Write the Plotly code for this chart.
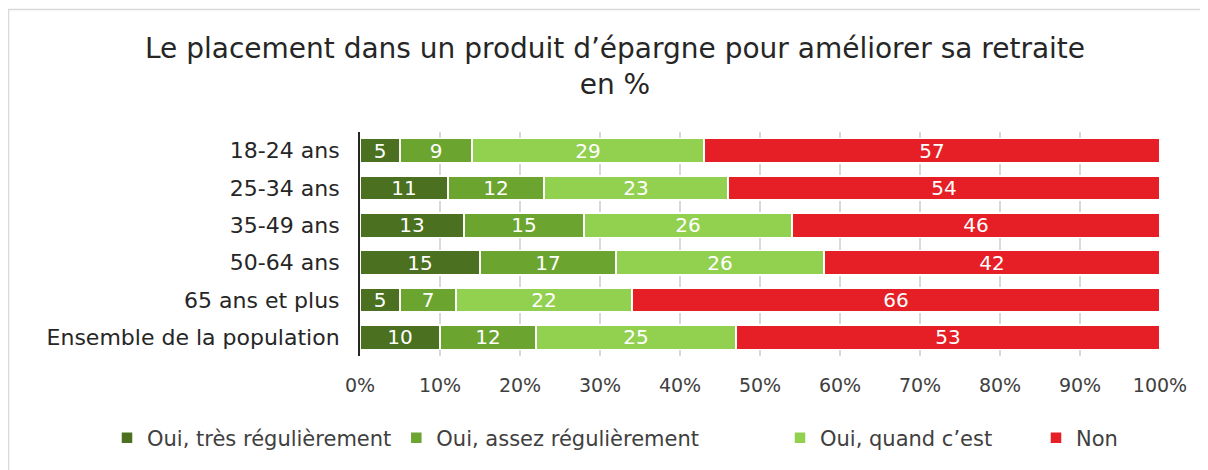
import plotly.graph_objects as go

categories = ["18-24 ans", "25-34 ans", "35-49 ans", "50-64 ans", "65 ans et plus", "Ensemble de la population"]
series_names = ["Oui, très régulièrement", "Oui, assez régulièrement", "Oui, quand c\u2019est", "Non"]
tres_reg = [5, 11, 13, 15, 5, 10]
assez_reg = [9, 12, 15, 17, 7, 12]
quand = [29, 23, 26, 26, 22, 25]
non = [57, 54, 46, 42, 66, 53]
colors = ["#4a7020", "#6ba530", "#92d050", "#e61e25"]
tick_vals = [0, 10, 20, 30, 40, 50, 60, 70, 80, 90, 100]
tick_text = [f"{v}%" for v in tick_vals]

FONT = "DejaVu Sans"
W, H = 1200, 462
ML, MR, MT, MB = 352, 48, 124, 114
PW, PH = W - ML - MR, H - MT - MB
legend_ids = ["legend", "legend", "legend2", "legend2"]

fig = go.Figure()
for name, vals, col, lg in zip(series_names, [tres_reg, assez_reg, quand, non], colors, legend_ids):
    fig.add_trace(go.Bar(
        y=categories, x=vals, name=name, orientation="h", legend=lg,
        marker=dict(color=col, line=dict(color="white", width=1.5)),
        text=[str(v) for v in vals], textposition="inside",
        insidetextanchor="middle", textangle=0,
        textfont=dict(color="white", size=20, family=FONT),
        constraintext="none", cliponaxis=False,
    ))

legend_y = (MT + PH - 430) / PH
fig.update_layout(
    barmode="stack", bargap=0.35,
    width=W, height=H,
    margin=dict(l=ML, r=MR, t=MT, b=MB, autoexpand=False),
    paper_bgcolor="white", plot_bgcolor="white",
    font=dict(family=FONT, color="#262626", size=19),
    title=dict(text="Le placement dans un produit d\u2019épargne pour améliorer sa retraite<br>en %",
               x=0.5 + 7 / W, xanchor="center", y=1 - 50 / H, yanchor="top",
               font=dict(size=28, family=FONT, color="#262626")),
    xaxis=dict(range=[0, 100], tickvals=tick_vals, ticktext=tick_text,
               showgrid=True, gridcolor="#d9d9d9", gridwidth=1.5,
               zeroline=False, showline=False, ticks="",
               tickfont=dict(size=19, color="#404040"), ticklabelstandoff=16),
    yaxis=dict(categoryorder="array", categoryarray=categories, autorange="reversed",
               showgrid=False, showline=True, linecolor="#262626", linewidth=2,
               ticks="", tickfont=dict(size=22, color="#262626"), ticklabelstandoff=14),
    legend=dict(orientation="h", xref="paper", yref="paper",
                x=(99 - ML) / PW, xanchor="left", y=legend_y, yanchor="middle",
                font=dict(size=21, color="#404040"), traceorder="normal"),
    legend2=dict(orientation="h", xref="paper", yref="paper",
                 x=(772 - ML) / PW, xanchor="left", y=legend_y, yanchor="middle",
                 entrywidth=211, entrywidthmode="pixels",
                 font=dict(size=21, color="#404040"), traceorder="normal"),
    uniformtext=dict(minsize=8, mode="show"),
    shapes=[dict(type="rect", xref="paper", yref="paper",
                 x0=(0.5 - ML) / PW, x1=2, y0=-2, y1=(MT + PH - 1.5) / PH,
                 line=dict(color="#d9d9d9", width=1.5), fillcolor="rgba(0,0,0,0)", layer="below")],
)
fig.write_html("out.html")
